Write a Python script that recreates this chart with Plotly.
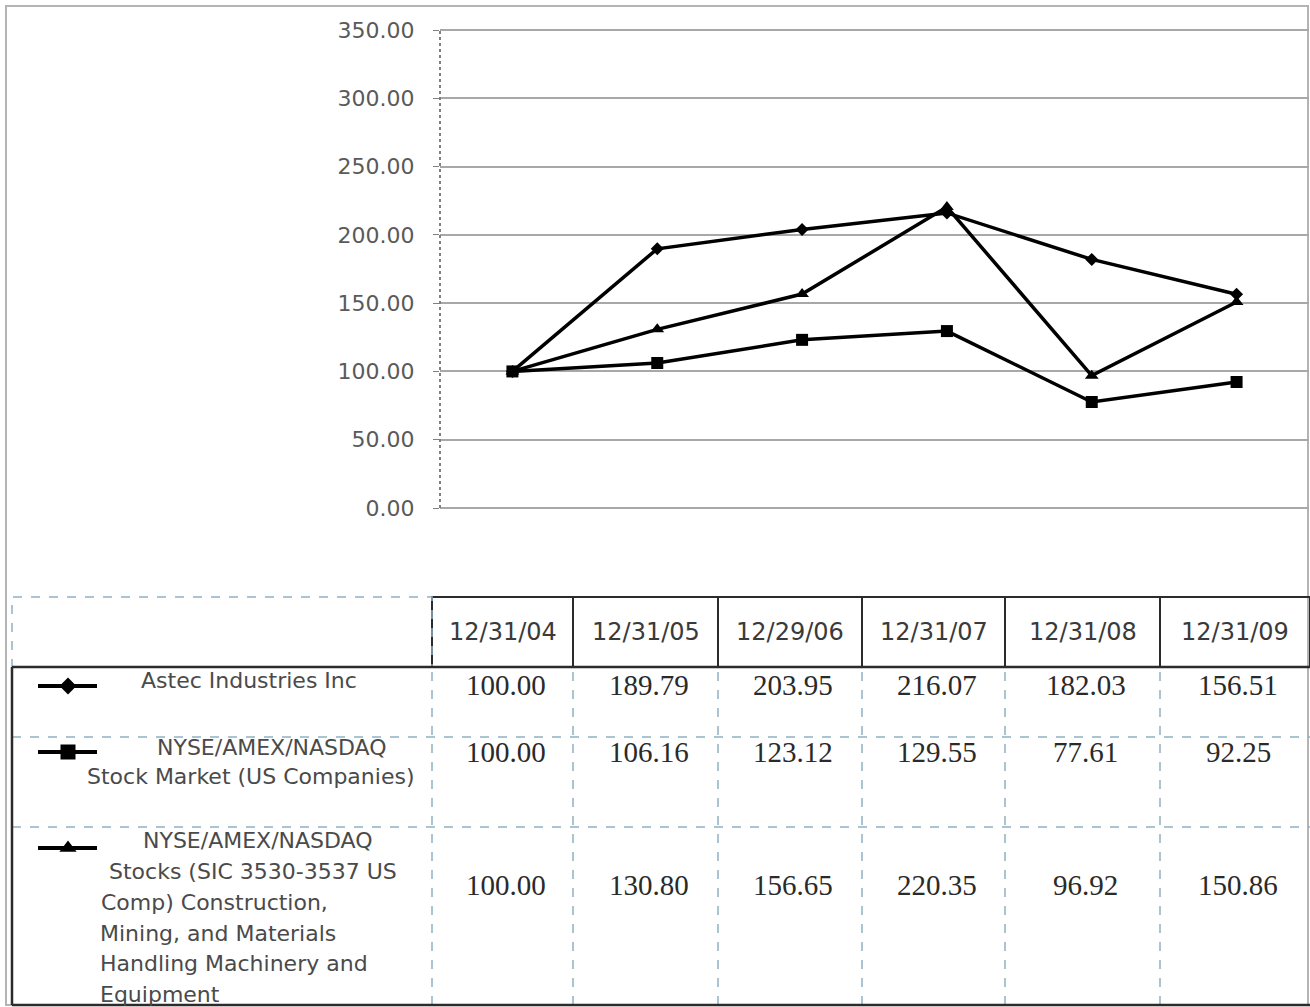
import plotly.graph_objects as go

# ---------------- data ----------------
dates = ["12/31/04", "12/31/05", "12/29/06", "12/31/07", "12/31/08", "12/31/09"]
astec = [100.00, 189.79, 203.95, 216.07, 182.03, 156.51]
nyse_market = [100.00, 106.16, 123.12, 129.55, 77.61, 92.25]
sic_index = [100.00, 130.80, 156.65, 220.35, 96.92, 150.86]
y_ticks = [0, 50, 100, 150, 200, 250, 300, 350]

series = [
    ("Astec Industries Inc", astec, "diamond", 10),
    ("NYSE/AMEX/NASDAQ Stock Market (US Companies)", nyse_market, "square", 12),
    ("NYSE/AMEX/NASDAQ Stocks (SIC 3530-3537 US Comp) Construction, Mining, and Materials Handling Machinery and Equipment",
     sic_index, "triangle-up", 12),
]

# ---------------- layout helpers (pixel -> paper) ----------------
W, H = 1310, 1007


def px(x):
    return x / W


def py(y):
    return 1 - y / H


PLOT_L, PLOT_R, PLOT_T, PLOT_B = 440, 1309, 30, 508
COLS = [432, 573, 718, 862, 1005, 1160, 1310]
TBL_L = 12
HDR_T, HDR_B = 597, 667
ROW_B = [737, 827, 1005]
ROW_TEXT_Y = [685, 752, 885]
SYM_Y = [686, 752, 848]

GRID = "#a8a8a8"
DASH_BLUE = "#8fb2c2"
DARK = "#2b2b2b"

fig = go.Figure()

for name, vals, sym, size in series:
    fig.add_trace(go.Scatter(
        x=dates, y=vals, name=name, mode="lines+markers",
        line=dict(color="black", width=3.5),
        marker=dict(symbol=sym, size=size, color="black", line=dict(width=0)),
        showlegend=False, hoverinfo="x+y",
    ))

# legend keys in the table (separate full-figure pixel axis, transparent background)
for i, (name, vals, sym, size) in enumerate(series):
    fig.add_trace(go.Scatter(
        x=[38, 97], y=[SYM_Y[i]] * 2, mode="lines",
        line=dict(color="black", width=4),
        xaxis="x2", yaxis="y2", showlegend=False, hoverinfo="skip",
    ))
    fig.add_trace(go.Scatter(
        x=[68], y=[SYM_Y[i]], mode="markers",
        marker=dict(symbol=sym, size=size + 3, color="black", line=dict(width=0)),
        xaxis="x2", yaxis="y2", showlegend=False, hoverinfo="skip",
    ))

shapes = []
# outer gray frame
shapes.append(dict(type="rect", xref="paper", yref="paper", layer="below",
                   x0=px(6), x1=px(1308), y0=py(1005), y1=py(6),
                   line=dict(color="#b4b4b4", width=2)))
# gridlines at the axis ends (0 and 350), which plotly does not draw itself
for yy in (PLOT_T, PLOT_B):
    shapes.append(dict(type="line", xref="paper", yref="paper", layer="below",
                       x0=px(PLOT_L), x1=px(PLOT_R), y0=py(yy), y1=py(yy),
                       line=dict(color=GRID, width=2)))
# dashed y axis line
shapes.append(dict(type="line", xref="paper", yref="paper",
                   x0=px(PLOT_L), x1=px(PLOT_L), y0=py(PLOT_B), y1=py(PLOT_T),
                   line=dict(color="#808080", width=2, dash="dot")))

# header date cells (solid)
for i in range(len(dates)):
    shapes.append(dict(type="rect", xref="paper", yref="paper",
                       x0=px(COLS[i]), x1=px(COLS[i + 1]), y0=py(HDR_B), y1=py(HDR_T),
                       line=dict(color=DARK, width=2)))
# header empty left cell (dashed blue)
shapes.append(dict(type="rect", xref="paper", yref="paper",
                   x0=px(TBL_L), x1=px(COLS[0]), y0=py(HDR_B), y1=py(HDR_T),
                   line=dict(color=DASH_BLUE, width=1.5, dash="dash")))
# row separators (dashed)
for yb in ROW_B[:-1]:
    shapes.append(dict(type="line", xref="paper", yref="paper",
                       x0=px(TBL_L), x1=px(1310), y0=py(yb), y1=py(yb),
                       line=dict(color=DASH_BLUE, width=1.5, dash="dash")))
# column separators in body (dashed)
for xc in COLS[:-1]:
    shapes.append(dict(type="line", xref="paper", yref="paper",
                       x0=px(xc), x1=px(xc), y0=py(1005), y1=py(HDR_B),
                       line=dict(color=DASH_BLUE, width=1.5, dash="dash")))
# solid body border
shapes.append(dict(type="line", xref="paper", yref="paper",
                   x0=px(TBL_L), x1=px(1310), y0=py(HDR_B), y1=py(HDR_B),
                   line=dict(color=DARK, width=2.5)))
shapes.append(dict(type="line", xref="paper", yref="paper",
                   x0=px(TBL_L), x1=px(TBL_L), y0=py(HDR_B), y1=py(1005),
                   line=dict(color=DARK, width=2.5)))
shapes.append(dict(type="line", xref="paper", yref="paper",
                   x0=px(TBL_L), x1=px(1310), y0=py(1005), y1=py(1005),
                   line=dict(color=DARK, width=2.5)))

annotations = []
# header dates
for i, d in enumerate(dates):
    annotations.append(dict(xref="paper", yref="paper",
                            x=px((COLS[i] + COLS[i + 1]) / 2), y=py(632),
                            text=d, showarrow=False, xanchor="center", yanchor="middle",
                            font=dict(family="DejaVu Sans", size=24, color="#3a3a3a")))
# values
for r, (name, vals, sym, size) in enumerate(series):
    for i, v in enumerate(vals):
        annotations.append(dict(xref="paper", yref="paper",
                                x=px((COLS[i] + COLS[i + 1]) / 2 + 3), y=py(ROW_TEXT_Y[r]),
                                text=f"{v:.2f}", showarrow=False, xanchor="center", yanchor="middle",
                                font=dict(family="Liberation Serif", size=29, color="#2a2a2a")))

LBL_FONT = dict(family="DejaVu Sans", size=22, color="#4a4a4a")
label_lines = [
    ("Astec Industries Inc", 249, 680, "center"),
    ("NYSE/AMEX/NASDAQ", 272, 747, "center"),
    ("Stock Market (US Companies)", 250, 776, "center"),
    ("NYSE/AMEX/NASDAQ", 258, 840, "center"),
    ("Stocks (SIC 3530-3537 US", 253, 871, "center"),
    ("Comp) Construction,", 99, 902, "left"),
    ("Mining, and Materials", 98, 933, "left"),
    ("Handling Machinery and", 98, 963, "left"),
    ("Equipment", 98, 994, "left"),
]
for t, x, y, anc in label_lines:
    annotations.append(dict(xref="paper", yref="paper", x=px(x), y=py(y), text=t,
                            showarrow=False, xanchor=anc, yanchor="middle", font=LBL_FONT))

fig.update_layout(
    width=W, height=H,
    margin=dict(l=0, r=0, t=0, b=0, pad=0),
    paper_bgcolor="white", plot_bgcolor="rgba(0,0,0,0)",
    xaxis=dict(domain=[px(PLOT_L), px(PLOT_R)], type="category", range=[-0.5, 5.5],
               showticklabels=False, showgrid=False, zeroline=False, showline=False, ticks="",
               automargin=False),
    yaxis=dict(domain=[py(PLOT_B), py(PLOT_T)], range=[0, 350], tickvals=y_ticks,
               tickformat=".2f", showgrid=True, gridcolor=GRID, gridwidth=2,
               zeroline=False, showline=False, ticks="outside", ticklen=6, tickcolor="#808080",
               tickwidth=1, ticklabelstandoff=14, automargin=False,
               tickfont=dict(family="DejaVu Sans", size=22, color="#5a5a5a")),
    xaxis2=dict(domain=[0, 1], range=[0, W], visible=False, anchor="y2", automargin=False),
    yaxis2=dict(domain=[0, 1], range=[H, 0], visible=False, anchor="x2", automargin=False),
    shapes=shapes,
    annotations=annotations,
)

fig.write_html("out.html", config={"displayModeBar": False},
               post_script="document.body.style.margin='0';")
